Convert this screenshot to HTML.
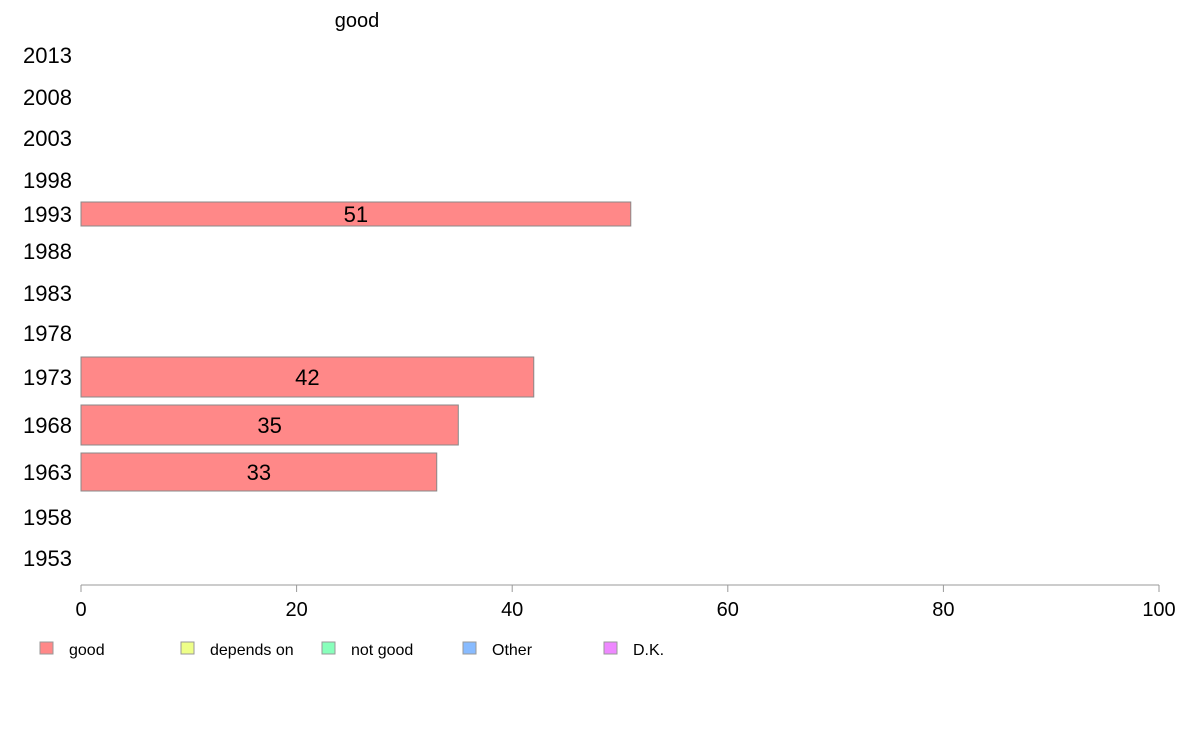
<!DOCTYPE html>
<html><head><meta charset="utf-8"><style>
body{margin:0;background:#fff;width:1188px;height:736px;overflow:hidden;font-family:"Liberation Sans",Arial,sans-serif}
</style></head><body>
<svg id="chart" width="1188" height="736" xmlns="http://www.w3.org/2000/svg" font-family="Liberation Sans, Arial, sans-serif">
<text x="357" y="27" font-size="20" text-anchor="middle">good</text>
<g id="bars"></g>
<g id="axis"></g>
<g id="legend"></g>
</svg>
<script>
const years = ["2013","2008","2003","1998","1993","1988","1983","1978","1973","1968","1963","1958","1953"];
const goodValues = [null,null,null,null,51,null,null,null,42,35,33,null,null];
const xTicks = [0,20,40,60,80,100];
const legendLabels = ["good","depends on","not good","Other","D.K."];
const legendColors = ["#ff8888","#eeff88","#88ffbb","#88bbff","#ee88ff"];

// layout (not data)
const rowCenters = [55,97,138,180,214,251,293,333,377,425,472,517,558];
const barHalf = [12,12,12,12,12,12,12,12,20,20,19,12,12];
const X0 = 81, X1 = 1159, AXIS_Y = 585;
const xScale = v => X0 + (X1 - X0) * v / 100;
const NS = "http://www.w3.org/2000/svg";
function mk(tag, attrs, parent){const e=document.createElementNS(NS,tag);for(const k in attrs)e.setAttribute(k,attrs[k]);parent.appendChild(e);return e;}

const bars = document.getElementById('bars');
years.forEach((y,i)=>{
  const lab = mk('text',{x:72,y:rowCenters[i]+8,'font-size':22,'text-anchor':'end'},bars);
  lab.textContent=y;
  
  
  const v = goodValues[i];
  if(v!=null){
    const r = mk('rect',{x:X0,y:rowCenters[i]-barHalf[i],width:xScale(v)-X0,height:barHalf[i]*2,fill:'#ff8888',stroke:'#888','stroke-width':1},bars);
    
    
    const t = mk('text',{x:(X0+xScale(v))/2,y:rowCenters[i]+8,'font-size':22,'text-anchor':'middle'},bars);
    t.textContent=v;
    
    
  }
});

const axis = document.getElementById('axis');
const line = mk('line',{x1:X0,x2:X1,y1:AXIS_Y,y2:AXIS_Y,stroke:'#999','stroke-width':1},axis);


xTicks.forEach(v=>{
  const tk = mk('line',{x1:xScale(v),x2:xScale(v),y1:AXIS_Y,y2:AXIS_Y+7,stroke:'#999'},axis);
  
  
  const t = mk('text',{x:xScale(v),y:AXIS_Y+31,'font-size':20,'text-anchor':'middle'},axis);
  t.textContent=v;
  
  
});

const legend = document.getElementById('legend');
legendLabels.forEach((l,i)=>{
  const x = 40 + i*141;
  const g = mk('g',{},legend);
  
  
  mk('rect',{x:x,y:642,width:13,height:12,fill:legendColors[i],stroke:'#999','stroke-width':1},g);
  const t = mk('text',{x:x+29,y:655,'font-size':16},g);
  t.textContent=l;
});
</script>
</body></html>
